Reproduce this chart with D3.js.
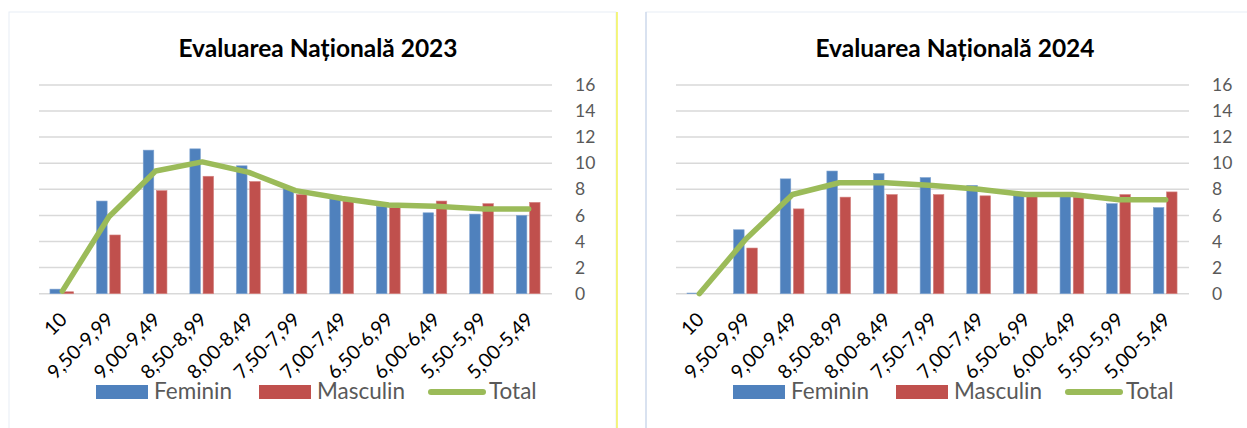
<!DOCTYPE html>
<html>
<head>
<meta charset="utf-8">
<script src="https://cdn.jsdelivr.net/npm/d3@7"></script>
<style>
  body { margin: 0; background: #fff; }
  svg { display: block; }
  text { font-family: Lato, "Noto Sans", sans-serif; }
</style>
</head>
<body>
<svg width="1247" height="428"></svg>
<script>
// Score bands on the x axis
var categories = ['10', '9,50-9,99', '9,00-9,49', '8,50-8,99', '8,00-8,49', '7,50-7,99',
    '7,00-7,49', '6,50-6,99', '6,00-6,49', '5,50-5,99', '5,00-5,49'];
var seriesNames = ['Feminin', 'Masculin', 'Total'];
var yTicks = [0, 2, 4, 6, 8, 10, 12, 14, 16];

// 2023 values (percent)
var fem2023 = [0.35, 7.1, 11.0, 11.1, 9.8, 8.1, 7.3, 6.7, 6.2, 6.1, 6.0];
var masc2023 = [0.15, 4.5, 7.9, 9.0, 8.6, 7.6, 7.1, 6.6, 7.1, 6.9, 7.0];
var tot2023 = [0.2, 5.9, 9.4, 10.1, 9.3, 7.9, 7.3, 6.8, 6.7, 6.5, 6.5];

// 2024 values (percent)
var fem2024 = [0.05, 4.9, 8.8, 9.4, 9.2, 8.9, 8.3, 7.6, 7.6, 6.9, 6.6];
var masc2024 = [0, 3.5, 6.5, 7.4, 7.6, 7.6, 7.5, 7.5, 7.4, 7.6, 7.8];
var tot2024 = [0, 4.2, 7.6, 8.5, 8.5, 8.3, 8.0, 7.6, 7.6, 7.2, 7.2];

var colors = {Feminin: '#4f81bd', Masculin: '#c0504d', Total: '#9bbb59'};

var svg = d3.select('svg');

// panel frames
svg.append('rect').attr('x', 9).attr('y', 12).attr('width', 607).attr('height', 430)
    .attr('fill', 'none').attr('stroke', '#e8edf5');
svg.append('line').attr('x1', 617).attr('x2', 617).attr('y1', 12).attr('y2', 428)
    .attr('stroke', '#eef000').attr('stroke-width', 1);
svg.append('rect').attr('x', 646).attr('y', 12).attr('width', 620).attr('height', 430)
    .attr('fill', 'none').attr('stroke', '#e8edf5');
svg.append('line').attr('x1', 646).attr('x2', 646).attr('y1', 12).attr('y2', 428)
    .attr('stroke', '#c8d5ea').attr('stroke-width', 1.2);

function drawChart(offsetX, title, fem, masc, tot) {
    var g = svg.append('g').attr('transform', 'translate(' + offsetX + ',0)');

    var x = d3.scaleBand().domain(categories).range([39, 552]);
    var bw = x.bandwidth();
    var xSub = d3.scaleBand().domain(['Feminin', 'Masculin'])
        .range([bw * 0.235, bw * 0.744]).paddingInner(0.2);
    var y = d3.scaleLinear().domain([0, 16]).range([293.7, 84.9]);

    // gridlines
    g.append('g').selectAll('line').data(yTicks).enter().append('line')
        .attr('x1', 39).attr('x2', 552)
        .attr('y1', function(d) { return y(d); })
        .attr('y2', function(d) { return y(d); })
        .attr('stroke', '#d9d9d9').attr('stroke-width', 1.5);

    // y axis on the right
    var yAxis = d3.axisRight(y).tickValues(yTicks).tickSize(0).tickPadding(23);
    var ya = g.append('g').attr('transform', 'translate(552,0)').call(yAxis);
    ya.select('.domain').remove();
    ya.selectAll('text').attr('font-size', 17.5).attr('fill', '#595959')
        .attr('font-family', 'Lato, sans-serif');

    // bars
    var rows = categories.map(function(c, i) {
        return {cat: c, Feminin: fem[i], Masculin: masc[i]};
    });
    var groups = g.append('g').selectAll('.cat').data(rows).enter().append('g')
        .attr('class', 'cat')
        .attr('transform', function(d) { return 'translate(' + x(d.cat) + ',0)'; });
    groups.selectAll('rect').data(function(d) {
        return ['Feminin', 'Masculin'].map(function(k) { return {key: k, value: d[k]}; });
    }).enter().append('rect')
        .attr('x', function(d) { return xSub(d.key); })
        .attr('width', xSub.bandwidth())
        .attr('y', function(d) { return y(d.value); })
        .attr('height', function(d) { return y(0) - y(d.value); })
        .attr('fill', function(d) { return colors[d.key]; })
        .attr('stroke', function(d) { return d.key === 'Feminin' ? '#7fa3d0' : '#d58583'; })
        .attr('stroke-width', 0.6);

    // total line
    var line = d3.line()
        .x(function(d, i) { return x(categories[i]) + bw / 2; })
        .y(function(d) { return y(d); });
    g.append('path').datum(tot)
        .attr('d', line)
        .attr('fill', 'none')
        .attr('stroke', colors.Total)
        .attr('stroke-width', 5.5)
        .attr('stroke-linejoin', 'round')
        .attr('stroke-linecap', 'round');

    // x labels, rotated
    g.append('g').selectAll('text').data(categories).enter().append('text')
        .attr('transform', function(d) {
            return 'translate(' + (x(d) + bw / 2 + 1) + ',316) rotate(-45)';
        })
        .attr('text-anchor', 'end')
        .attr('dy', '0.35em')
        .attr('font-size', 19.5)
        .attr('fill', '#000')
        .text(function(d) { return d; });

    // title
    g.append('text')
        .attr('x', 318).attr('y', 57)
        .attr('text-anchor', 'middle')
        .attr('font-size', 24.5)
        .attr('font-weight', 'bold')
        .attr('fill', '#000')
        .text(title);

    // legend
    var legendX = [96, 259, 429];
    var leg = g.append('g').selectAll('g').data(seriesNames).enter().append('g')
        .attr('transform', function(d, i) { return 'translate(' + legendX[i] + ',0)'; });
    leg.each(function(d) {
        var el = d3.select(this);
        if (d === 'Total') {
            el.append('line').attr('x1', 2).attr('x2', 54).attr('y1', 392).attr('y2', 392)
                .attr('stroke', colors.Total).attr('stroke-width', 6)
                .attr('stroke-linecap', 'round');
        } else {
            el.append('rect').attr('x', 0).attr('y', 385).attr('width', 52).attr('height', 14)
                .attr('fill', colors[d]);
        }
        el.append('text').attr('x', d === 'Total' ? 60 : 58).attr('y', 399)
            .attr('font-size', 22.5).attr('fill', '#595959')
            .text(d);
    });
}

drawChart(0, 'Evaluarea Națională 2023', fem2023, masc2023, tot2023);
drawChart(637, 'Evaluarea Națională 2024', fem2024, masc2024, tot2024);
</script>
</body>
</html>
